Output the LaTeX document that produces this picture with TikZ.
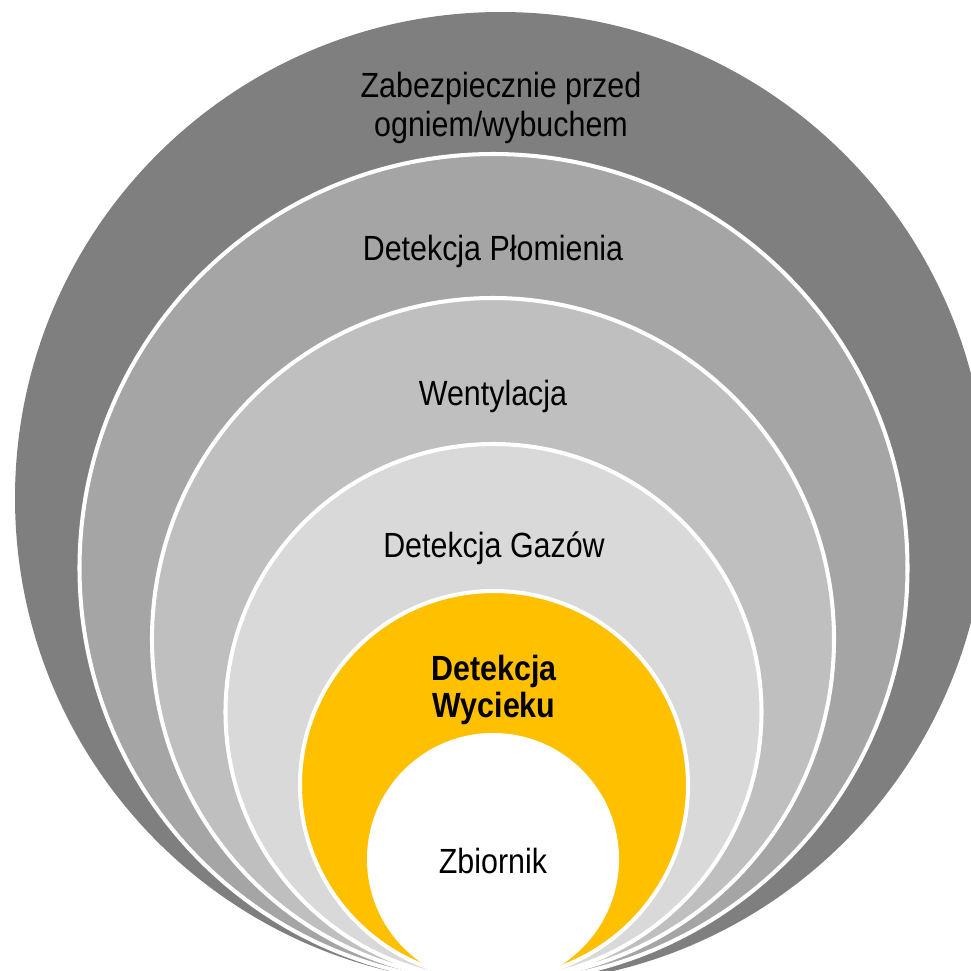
\documentclass[tikz,border=0pt]{standalone}
\usepackage{fontspec}
\setmainfont{Liberation Sans}[FakeStretch=0.87]
\usepackage{tikz}
\definecolor{szary1}{HTML}{7F7F7F}
\definecolor{szary2}{HTML}{A5A5A5}
\definecolor{szary3}{HTML}{BFBFBF}
\definecolor{szary4}{HTML}{D9D9D9}
\definecolor{zolty}{HTML}{FFC000}
\tikzset{
    x=0.02cm, y=-0.02cm, % jednostka = 1 piksel, os y w dol
    pierscien/.style={draw=white, line width=2.3pt}, % biala obwodka kazdego kola
    opis/.style={align=center, inner sep=0pt, font=\fontsize{19.9}{22.5}\selectfont}, % napisy w kolach
    opiswazny/.style={opis, font=\fontsize{19.9}{21.5}\selectfont\bfseries} % wyrozniony napis
}

\begin{document}
\begin{tikzpicture}
		\clip (0,0) rectangle (971,971);
		% Kola
		\fill[szary1] (501,498) circle[radius=486];
		\filldraw[pierscien, fill=szary2] (493.5,568) circle[radius=414];
		\filldraw[pierscien, fill=szary3] (493,639) circle[radius=341];
		\filldraw[pierscien, fill=szary4] (493.5,712) circle[radius=268];
		\filldraw[pierscien, fill=zolty] (494,785) circle[radius=194];
		\filldraw[pierscien, fill=white] (493,859) circle[radius=124];
		
		% Opisy
		\node[opis] (OG) at (501,108) {Zabezpiecznie przed\\ogniem/wybuchem};
		\node[opis, anchor=base] (PL) at (493,260) {Detekcja Płomienia};
		\node[opis, anchor=base] (WE) at (493,405) {Wentylacja};
		\node[opis, anchor=base] (GA) at (494,557) {Detekcja Gazów};
		\node[opiswazny] (WY) at (494,690) {Detekcja\\Wycieku};
		\node[opis, anchor=base] (ZB) at (493,873) {Zbiornik};
	\end{tikzpicture}
\end{document}
